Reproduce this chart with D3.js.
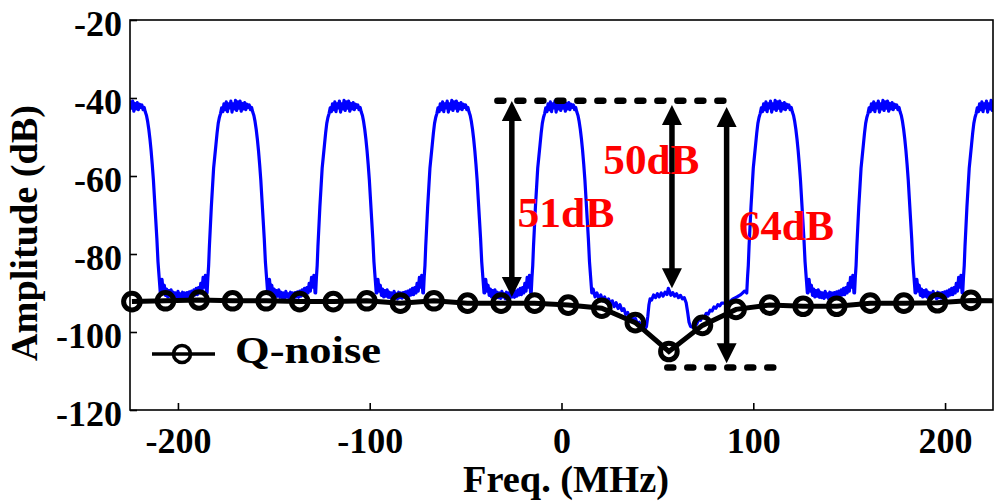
<!DOCTYPE html>
<html>
<head>
<meta charset="utf-8">
<script src="https://cdn.jsdelivr.net/npm/d3@7"></script>
<style>
  body { margin: 0; background: #fff; }
  text { font-family: "Liberation Serif", "Times New Roman", serif; font-weight: bold; }
</style>
</head>
<body>
<div id="chart"></div>
<script>
// axis ticks
const xTicks = [-200, -100, 0, 100, 200]
const yTicks = [-120, -100, -80, -60, -40, -20]

// blue spectrum: band centres (MHz), one band profile (offset MHz, dB), floor samples between bands
const bandCenters = [-225, -169, -112.4, -56.2, 0, 112.4, 168.6, 225]
const bandShape = [
  [-15.8, -90], [-15.4, -86], [-15.0, -83], [-14.6, -78], [-14.2, -74], [-13.6, -68], [-13.0, -63],
  [-12.4, -58], [-11.8, -55], [-11.2, -52], [-10.6, -49], [-10.0, -46.5], [-9.4, -45], [-8.8, -44],
  [-8.2, -42.5], [-7.6, -43.5], [-7.0, -41.5], [-6.4, -43], [-5.8, -41], [-5.2, -43.5], [-4.6, -41.5],
  [-4.0, -42.5], [-3.4, -40.8], [-2.8, -43.6], [-2.2, -41.5], [-1.6, -42.8], [-1.0, -40.6], [-0.4, -43.2],
  [0.2, -41], [0.8, -42.6], [1.4, -40.8], [2.0, -43.4], [2.6, -41.4], [3.2, -42.8], [3.8, -41.2],
  [4.4, -43], [5.0, -41.6], [5.6, -42.4], [6.2, -41.8], [6.8, -43], [7.4, -42.4], [8.0, -43.6],
  [8.6, -44.5], [9.2, -46], [9.8, -48], [10.4, -50.5], [11.0, -53.5], [11.6, -57], [12.2, -61],
  [12.8, -66], [13.4, -71], [14.0, -76], [14.6, -82], [15.2, -86], [15.8, -90]
]
const floorLevels = [
  -90, -86.5, -89.5, -88, -90.6, -89, -91, -89.4, -90.8, -89.2, -91.1, -89.8, -91.2, -90, -91.4,
  -89.6, -91, -90.2, -91.5, -89.8, -91.2, -90, -91.3, -89.9, -91, -89.7, -91.1, -89.5, -90.8, -89.2,
  -90.5, -88.8, -90.4, -88.6, -90, -87.5, -89.5, -86, -88.5, -85.5, -90
]
// suppressed band around 56 MHz (MHz, dB)
const notchTrace = [
  [16.5, -89], [17.5, -91], [18.5, -90], [19.5, -91.5], [20.5, -90.5], [21.5, -92], [22.5, -91],
  [23.5, -92.5], [24.5, -91.5], [25.5, -93], [26.5, -92], [27.5, -93.5], [28.5, -92.5], [29.5, -94],
  [30.5, -93], [31.5, -94.5], [32.5, -94], [33.5, -95.5], [34.5, -95], [35.5, -96.3], [36.5, -95.8],
  [37.5, -97], [38.5, -96.5], [39.5, -97.8], [40.5, -97.5], [41.5, -98.5], [42.5, -98.2], [43.5, -99.2],
  [44.3, -98.6], [45, -96], [45.6, -93], [46.2, -91.5], [47, -91.8], [48, -90.5], [49, -91.2],
  [50, -90.2], [51, -91], [52, -90], [53, -90.8], [54, -89.8], [55, -90.4], [55.7, -88.8], [56.3, -89.5],
  [57, -90.6], [58, -89.9], [59, -90.8], [60, -90.2], [61, -91.2], [62, -90.6], [63, -91.5], [64, -91.2],
  [65, -92.5], [65.8, -95], [66.5, -97.5], [67.3, -98.6], [68.5, -98.8], [69.5, -97.6], [70.5, -98],
  [71.5, -96.8], [72.5, -97], [73.5, -96], [74.5, -96.2], [75.5, -95.2], [76.5, -95.4], [77.5, -94.4],
  [78.5, -94.6], [79.5, -93.6], [80.5, -93.9], [81.5, -93], [82.5, -93.3], [83.5, -92.6], [85.5, -92.6],
  [87.5, -92.3], [89.5, -91.5], [91.5, -91], [93.5, -90.4], [95.5, -89.5], [96.3, -89.8]
]

// Q-noise curve
const qFreq = [-224, -206.5, -189, -171.5, -154, -136.5, -119, -101.5, -84, -66.5, -49, -31.5, -14,
  3.5, 21, 38.5, 56, 73.5, 91, 108.5, 126, 143.5, 161, 178.5, 196, 213.5, 231]
const qNoise = [-92.2, -92.0, -91.8, -92.0, -92.0, -92.2, -92.2, -92.0, -92.6, -92.0, -92.6, -92.6, -92.6,
  -93.1, -93.9, -97.6, -105.0, -98.3, -94.2, -93.1, -93.4, -93.4, -92.6, -92.6, -92.5, -91.9, -92.0]

// annotations
const gapLabels = ["51dB", "50dB", "64dB"]
const refTop = -40.7
const refBottom = -109.1

const W = 995, H = 503
const margin = {top: 20, right: 2, bottom: 93, left: 130}

const svg = d3.select("#chart").append("svg").attr("width", W).attr("height", H)

const x = d3.scaleLinear().domain([-225, 225]).range([margin.left, W - margin.right])
const y = d3.scaleLinear().domain([-120, -20]).range([H - margin.bottom, margin.top])

svg.append("clipPath").attr("id", "plot-clip")
  .append("rect")
  .attr("x", margin.left).attr("y", margin.top)
  .attr("width", W - margin.left - margin.right).attr("height", H - margin.top - margin.bottom)

// build the blue trace
const trace = []
bandCenters.forEach((c, i) => {
  bandShape.forEach(([o, v]) => trace.push([c + o, v]))
  const next = bandCenters[i + 1]
  if (next === undefined) return
  if (next - c > 80) {
    notchTrace.forEach(p => trace.push(p))
  } else {
    const a = c + 15.8, b = next - 15.8
    floorLevels.forEach((v, k) => trace.push([a + (b - a) * (k + 0.5) / floorLevels.length, v]))
  }
})

const line = d3.line().x(d => x(d[0])).y(d => y(d[1]))

const plot = svg.append("g").attr("clip-path", "url(#plot-clip)")
plot.append("path")
  .datum(trace)
  .attr("d", line)
  .attr("fill", "none")
  .attr("stroke", "#0000ff")
  .attr("stroke-width", 3.2)
  .attr("stroke-linejoin", "round")

// Q-noise
const qData = qFreq.map((f, i) => [f, qNoise[i]])
plot.append("path")
  .datum(qData)
  .attr("d", line)
  .attr("fill", "none")
  .attr("stroke", "#000")
  .attr("stroke-width", 5)

svg.append("g").selectAll("circle")
  .data(qData.filter(d => d[0] <= 225))
  .enter()
  .append("circle")
  .attr("cx", d => x(d[0]))
  .attr("cy", d => y(d[1]))
  .attr("r", 8.3)
  .attr("fill", "none")
  .attr("stroke", "#000")
  .attr("stroke-width", 5)

// dashed reference lines
const dash = svg.append("g")
  .attr("stroke", "#000")
  .attr("stroke-width", 6.5)
  .attr("stroke-linecap", "round")
  .attr("stroke-dasharray", "6,14")
dash.append("line")
  .attr("x1", x(-35) + 3).attr("x2", x(86))
  .attr("y1", y(refTop)).attr("y2", y(refTop))
dash.append("line")
  .attr("x1", x(53.6) + 3).attr("x2", x(112))
  .attr("y1", y(refBottom)).attr("y2", y(refBottom))

// double arrows
const arrows = [
  {f: -25.9, top: -40.8, bottom: -91.0},
  {f: 57.6, top: -41.8, bottom: -88.8},
  {f: 86.1, top: -42.3, bottom: -108.0}
]
const headL = 20, headW = 10
const ag = svg.append("g")
arrows.forEach(a => {
  const ax = x(a.f), y1 = y(a.top), y2 = y(a.bottom)
  ag.append("line")
    .attr("x1", ax).attr("x2", ax)
    .attr("y1", y1 + headL - 2).attr("y2", y2 - headL + 2)
    .attr("stroke", "#000").attr("stroke-width", 5.5)
  ag.append("path")
    .attr("d", `M${ax},${y1}L${ax - headW},${y1 + headL}L${ax + headW},${y1 + headL}Z`)
    .attr("fill", "#000")
  ag.append("path")
    .attr("d", `M${ax},${y2}L${ax - headW},${y2 - headL}L${ax + headW},${y2 - headL}Z`)
    .attr("fill", "#000")
})

// red labels
const labelPos = [[-23, -73.1, 97], [21.8, -59.5, 96], [92.6, -76.4, 95]]
svg.append("g").selectAll("text")
  .data(gapLabels)
  .enter()
  .append("text")
  .attr("x", (d, i) => x(labelPos[i][0]))
  .attr("y", (d, i) => y(labelPos[i][1]))
  .attr("textLength", (d, i) => labelPos[i][2])
  .attr("lengthAdjust", "spacingAndGlyphs")
  .attr("font-size", 43)
  .attr("fill", "#ff0000")
  .text(d => d)

// axes
const gx = svg.append("g")
  .attr("transform", `translate(0,${y(-120)})`)
  .call(d3.axisBottom(x).tickValues(xTicks).tickSize(-7).tickFormat(d => String(d)))
gx.select(".domain").remove()
gx.selectAll(".tick line").attr("stroke", "#000").attr("stroke-width", 1.6)
gx.selectAll(".tick text")
  .attr("y", 43).attr("dy", null)
  .attr("font-size", 36)
  .attr("fill", "#000")
  .attr("font-family", null)

const gy = svg.append("g")
  .attr("transform", `translate(${x(-225)},0)`)
  .call(d3.axisLeft(y).tickValues(yTicks).tickSize(-7).tickFormat(d => String(d)))
gy.select(".domain").remove()
gy.selectAll(".tick line").attr("stroke", "#000").attr("stroke-width", 1.6)
gy.selectAll(".tick text")
  .attr("x", -8).attr("dy", null).attr("y", 15)
  .attr("font-size", 36)
  .attr("fill", "#000")
  .attr("font-family", null)

// frame
svg.append("rect")
  .attr("x", x(-225)).attr("y", y(-20))
  .attr("width", x(225) - x(-225)).attr("height", y(-120) - y(-20))
  .attr("fill", "none")
  .attr("stroke", "#000")
  .attr("stroke-width", 1.6)

// axis titles
svg.append("text")
  .attr("x", 566).attr("y", 492)
  .attr("text-anchor", "middle")
  .attr("font-size", 37)
  .attr("textLength", 206)
  .attr("lengthAdjust", "spacingAndGlyphs")
  .text("Freq. (MHz)")

svg.append("text")
  .attr("transform", "translate(37,233) rotate(-90)")
  .attr("text-anchor", "middle")
  .attr("font-size", 37)
  .attr("textLength", 256)
  .attr("lengthAdjust", "spacingAndGlyphs")
  .text("Amplitude (dB)")

// legend
const lg = svg.append("g")
lg.append("line")
  .attr("x1", 152).attr("x2", 215).attr("y1", 354).attr("y2", 354)
  .attr("stroke", "#000").attr("stroke-width", 3.6)
lg.append("circle")
  .attr("cx", 182).attr("cy", 354).attr("r", 8.5)
  .attr("fill", "none").attr("stroke", "#000").attr("stroke-width", 3.6)
lg.append("text")
  .attr("x", 235).attr("y", 363)
  .attr("font-size", 38)
  .attr("textLength", 146)
  .attr("lengthAdjust", "spacingAndGlyphs")
  .text("Q-noise")
</script>
</body>
</html>
